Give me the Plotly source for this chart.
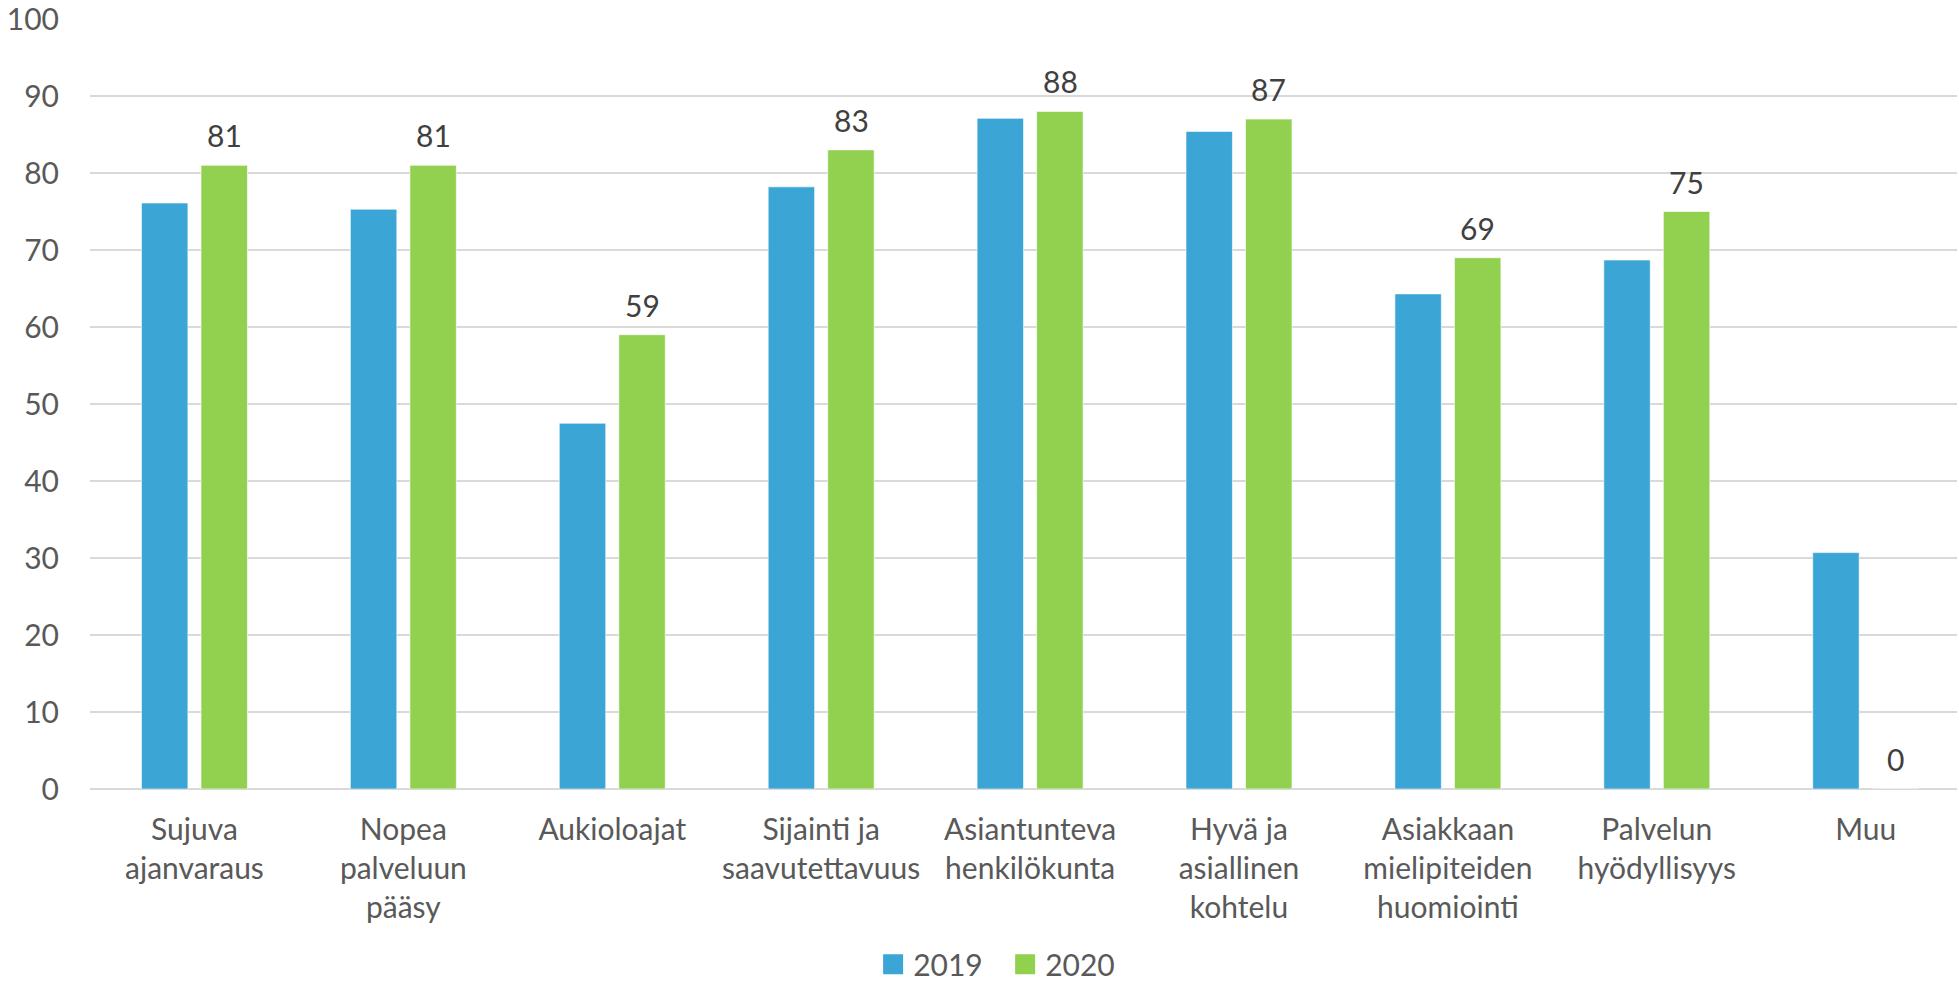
import plotly.graph_objects as go

categories = ["Sujuva<br>ajanvaraus", "Nopea<br>palveluun<br>pääsy", "Aukioloajat",
              "Sijainti ja<br>saavutettavuus", "Asiantunteva<br>henkilökunta",
              "Hyvä ja<br>asiallinen<br>kohtelu", "Asiakkaan<br>mielipiteiden<br>huomiointi",
              "Palvelun<br>hyödyllisyys", "Muu"]
values_2019 = [76.1, 75.3, 47.5, 78.2, 87.1, 85.4, 64.3, 68.7, 30.7]
values_2020 = [81, 81, 59, 83, 88, 87, 69, 75, 0]
series_names = ["2019", "2020"]
colors = ["#3BA5D6", "#92D050"]
y_ticks = [0, 10, 20, 30, 40, 50, 60, 70, 80, 90, 100]

FONT = "Lato, 'Open Sans', sans-serif"
TXT = "#595959"
FS = 30

fig = go.Figure()
for name, vals, col in zip(series_names, [values_2019, values_2020], colors):
    fig.add_trace(go.Bar(x=categories, y=vals, name=name, marker_color=col,
                         marker_line=dict(color="rgba(255,255,255,0.6)", width=1),
                         showlegend=False))
    fig.add_trace(go.Scatter(x=[None], y=[None], mode="markers", name=name,
                             marker=dict(symbol="square", size=16, color=col,
                                         line=dict(color=col, width=4))))

# data labels for the 2020 series
for c, v in zip(categories, values_2020):
    fig.add_annotation(x=c, y=v, text=str(int(v)), showarrow=False,
                       xshift=30, yshift=10, yanchor="bottom",
                       font=dict(family=FONT, size=FS, color="#404040"))

fig.update_layout(
    width=1959, height=991,
    margin=dict(l=90, r=2, t=19, b=202),
    paper_bgcolor="white", plot_bgcolor="white",
    barmode="group", bargap=0.43, bargroupgap=0.22,
    font=dict(family=FONT, size=FS, color=TXT),
    showlegend=True,
    legend=dict(orientation="h", xref="container", yref="container",
                x=0.4457, xanchor="left", y=0.027, yanchor="middle",
                font=dict(family=FONT, size=FS, color=TXT), itemwidth=30,
                entrywidth=87, traceorder="normal"),
    xaxis=dict(showgrid=False, showline=False, ticks="", ticklabelstandoff=20,
               range=[-0.5, 8.437], automargin=False,
               tickfont=dict(family=FONT, size=FS, color=TXT)),
    yaxis=dict(range=[0, 100], tickvals=y_ticks, showgrid=True, gridcolor="#D9D9D9",
               gridwidth=1.5, zeroline=True, zerolinecolor="#D9D9D9", zerolinewidth=2,
               showline=False, ticks="", ticklabelstandoff=30, automargin=False,
               ticklabeloverflow="allow",
               tickfont=dict(family=FONT, size=FS, color=TXT)),
)

fig.write_html("out.html", config={"displayModeBar": False},
               post_script="document.body.style.margin='0';document.body.style.overflow='hidden';")
